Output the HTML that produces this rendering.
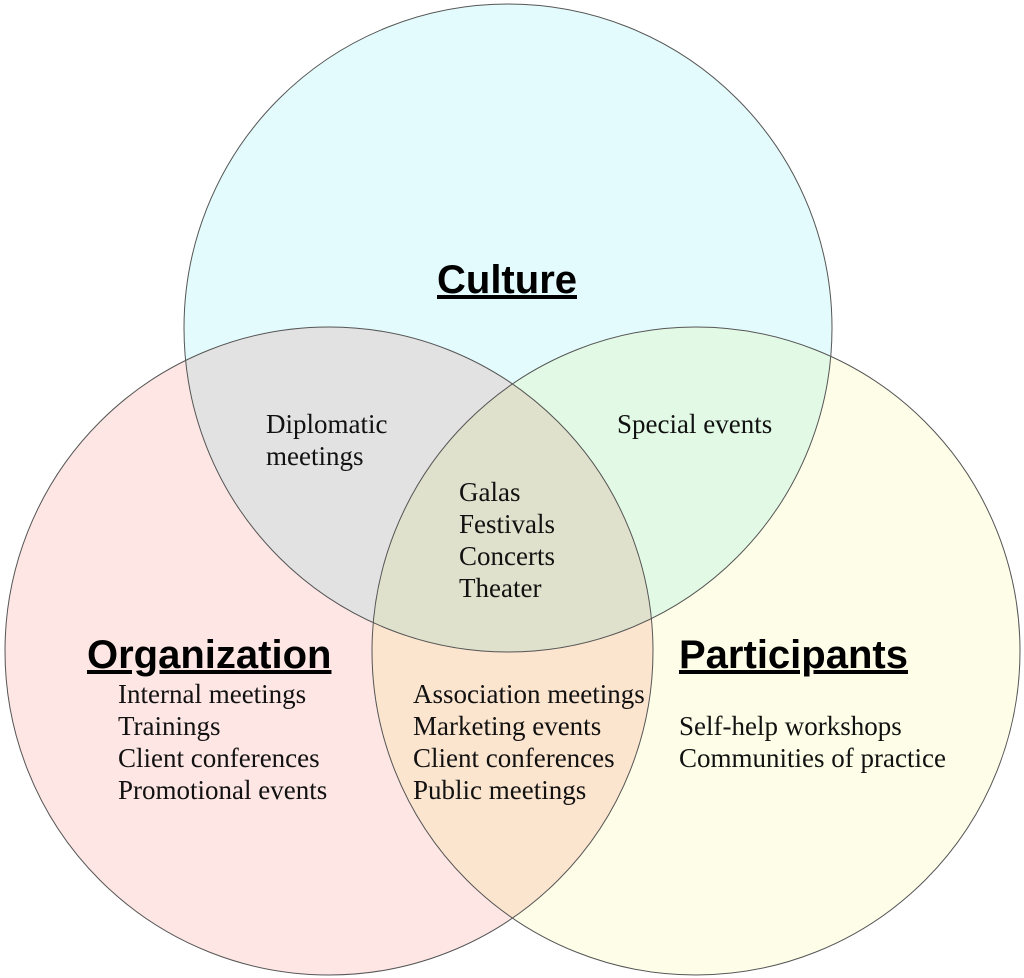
<!DOCTYPE html>
<html><head><style>
html,body{margin:0;padding:0;background:#fff;}
svg{display:block;}
.t{font-family:"Liberation Serif",serif;font-size:27px;fill:#111;}
.h{font-family:"Liberation Sans",sans-serif;font-size:40px;font-weight:bold;fill:#000;text-decoration:underline;}
</style></head><body>
<svg width="1024" height="978" viewBox="0 0 1024 978" xmlns="http://www.w3.org/2000/svg">
<rect width="1024" height="978" fill="#fff"/>
<g style="isolation:isolate">
<circle cx="508" cy="328" r="324" fill="#e3fbfc" style="mix-blend-mode:multiply"/>
<circle cx="329" cy="651" r="324" fill="#fde6e4" style="mix-blend-mode:multiply"/>
<circle cx="696" cy="651" r="324" fill="#fefee8" style="mix-blend-mode:multiply"/>
</g>
<g fill="none" stroke="#555" stroke-width="1">
<circle cx="508" cy="328" r="324"/>
<circle cx="329" cy="651" r="324"/>
<circle cx="696" cy="651" r="324"/>
</g>
<text class="h" x="507" y="293" text-anchor="middle">Culture</text>
<text class="h" x="87" y="668">Organization</text>
<text class="h" x="679" y="668">Participants</text>
<text class="t" x="266" y="433">Diplomatic</text>
<text class="t" x="266" y="465">meetings</text>
<text class="t" x="617" y="433">Special events</text>
<text class="t" x="459" y="501">Galas</text>
<text class="t" x="459" y="533">Festivals</text>
<text class="t" x="459" y="565">Concerts</text>
<text class="t" x="459" y="597">Theater</text>
<text class="t" x="118" y="703">Internal meetings</text>
<text class="t" x="118" y="735">Trainings</text>
<text class="t" x="118" y="767">Client conferences</text>
<text class="t" x="118" y="799">Promotional events</text>
<text class="t" x="413" y="703">Association meetings</text>
<text class="t" x="413" y="735">Marketing events</text>
<text class="t" x="413" y="767">Client conferences</text>
<text class="t" x="413" y="799">Public meetings</text>
<text class="t" x="679" y="735">Self-help workshops</text>
<text class="t" x="679" y="767">Communities of practice</text>
</svg>
</body></html>
